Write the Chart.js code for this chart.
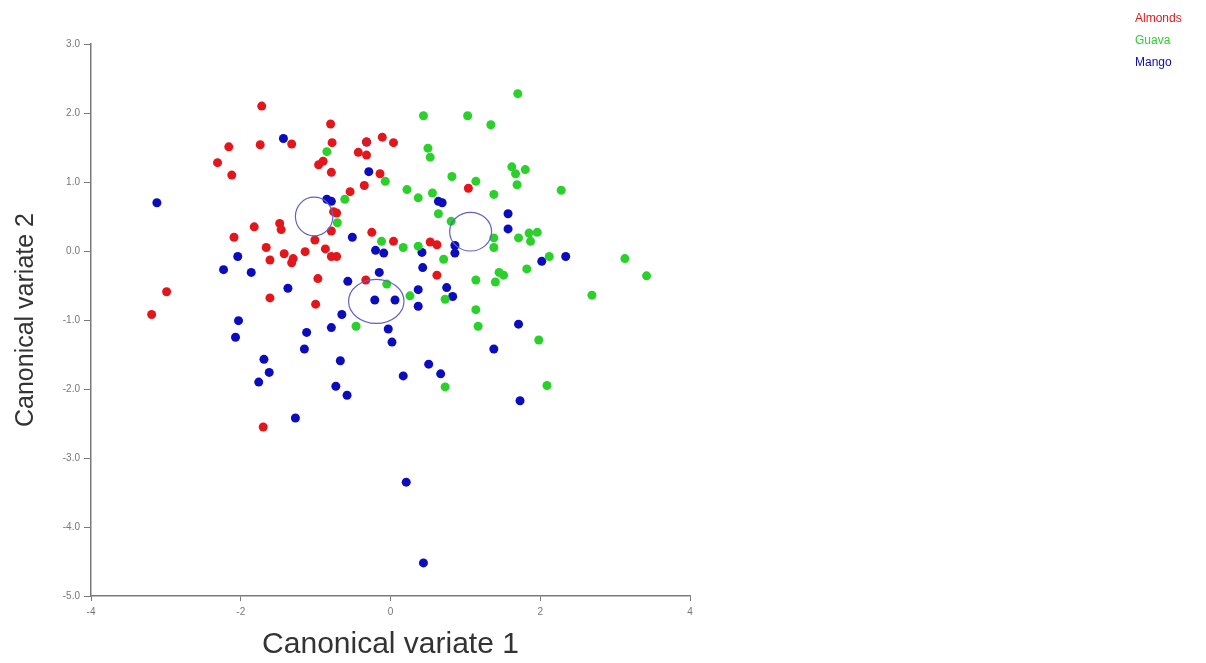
<!DOCTYPE html>
<html>
<head>
<meta charset="utf-8">
<title>Canonical variates</title>
<script src="https://cdn.jsdelivr.net/npm/chart.js@4.4.1/dist/chart.umd.min.js"></script>
<style>
    body {
        margin: 0;
        background: #ffffff;
    }
    .wrap {
        position: relative;
        width: 1206px;
        height: 663px;
    }
    .legend {
        position: absolute;
        left: 1135px;
        top: 7px;
        font-family: "Liberation Sans", Arial, sans-serif;
        font-size: 12px;
        line-height: 22px;
    }
</style>
</head>
<body>
<div class="wrap">
    <canvas id="cvaChart" width="1206" height="663"></canvas>
    <div class="legend" id="legend"></div>
</div>
<script>
// Group scores on the first two canonical variates
const almondsX = [-1.72, -0.80, -1.32, -2.16, -1.74, -0.78, -0.32, -0.11, 0.04, -0.43,
    -0.32, -2.31, -0.96, -0.90, -2.12, -0.79, -0.14, -0.35, -0.54, -0.76,
    -0.72, -0.79, -0.25, -1.82, -1.48, -1.46, -2.09, -1.01, 0.04, -1.66,
    -1.42, -1.30, -1.32, -1.14, -0.87, -0.79, -0.72, -1.61, -0.97, -0.33,
    -1.61, -1.00, -2.99, -3.19, -1.70, 1.04, 0.53, 0.62, 0.62];
const almondsY = [2.10, 1.84, 1.55, 1.51, 1.54, 1.57, 1.58, 1.65, 1.57, 1.43,
    1.39, 1.28, 1.25, 1.30, 1.10, 1.14, 1.12, 0.95, 0.86, 0.57,
    0.55, 0.29, 0.27, 0.35, 0.40, 0.31, 0.20, 0.16, 0.14, 0.05,
    -0.04, -0.11, -0.17, -0.01, 0.03, -0.08, -0.08, -0.13, -0.40, -0.42,
    -0.68, -0.77, -0.59, -0.92, -2.55, 0.91, 0.13, 0.09, -0.35];

const guavaX = [-0.85, -0.71, -0.61, -0.07, 0.22, -0.12, 0.17, 1.70, 0.44, 1.03,
    1.34, 0.50, 0.53, 0.82, 1.14, 1.62, 1.67, 1.80, 1.69, 2.28,
    0.37, 0.56, 1.38, 0.64, 0.81, 1.71, 1.85, 1.96, 1.87, 0.37,
    1.38, 1.38, 2.12, 3.13, 3.42, 2.69, 0.71, 1.14, 1.40, 1.45,
    1.51, 1.82, -0.05, 0.26, 0.73, -0.46, 1.14, 1.17, 1.98, 0.73, 2.09];
const guavaY = [1.44, 0.41, 0.75, 1.01, 0.89, 0.14, 0.05, 2.28, 1.96, 1.96,
    1.83, 1.49, 1.36, 1.08, 1.01, 1.22, 1.12, 1.18, 0.96, 0.88,
    0.77, 0.84, 0.82, 0.54, 0.43, 0.19, 0.26, 0.27, 0.14, 0.07,
    0.19, 0.05, -0.08, -0.11, -0.36, -0.64, -0.12, -0.42, -0.45, -0.31,
    -0.35, -0.26, -0.48, -0.65, -0.70, -1.09, -0.85, -1.09, -1.29, -1.97, -1.95];

const mangoX = [-1.43, -0.32, -0.29, -3.12, -0.85, -0.79, -0.51, -0.20, -0.09, -2.04,
    0.64, 0.69, 1.57, 1.57, 0.86, 0.86, 0.42, 2.02, 2.34, -2.23,
    -1.86, -0.57, -0.15, -0.21, 0.06, -1.37, -0.65, -0.79, -0.03, 0.02,
    -2.03, -2.07, -1.12, -1.15, -1.69, -1.62, -1.76, -0.67, -0.73, -0.58,
    0.17, -1.27, 0.43, 0.75, 0.83, 0.37, 0.37, 1.71, 1.38, 0.51,
    0.67, 1.73, 0.21, 0.44];
const mangoY = [1.63, 1.58, 1.15, 0.70, 0.75, 0.72, 0.20, 0.01, -0.03, -0.08,
    0.72, 0.70, 0.54, 0.32, 0.08, -0.03, -0.02, -0.15, -0.08, -0.27,
    -0.31, -0.44, -0.31, -0.71, -0.71, -0.54, -0.92, -1.11, -1.13, -1.32,
    -1.01, -1.25, -1.18, -1.42, -1.57, -1.76, -1.90, -1.59, -1.96, -2.09,
    -1.81, -2.42, -0.24, -0.53, -0.66, -0.56, -0.80, -1.06, -1.42, -1.64,
    -1.78, -2.17, -3.35, -4.52];

// Group mean ellipses (centre and half-axes in variate units)
const ellipseX = [-1.02, 1.07, -0.19];
const ellipseY = [0.50, 0.28, -0.73];
const ellipseRX = [0.25, 0.28, 0.37];
const ellipseRY = [0.28, 0.28, 0.32];

const groupNames = ['Almonds', 'Guava', 'Mango'];
const groupColors = ['#e3161b', '#2bd12b', '#0c0cbf'];

function toPoints(xs, ys) {
    return xs.map((x, i) => ({ x: x, y: ys[i] }));
}

const groupEllipses = {
    id: 'groupEllipses',
    afterDatasetsDraw(chart) {
        const { ctx, scales: { x, y } } = chart;
        ctx.save();
        ctx.strokeStyle = '#6262c8';
        ctx.lineWidth = 1.2;
        ellipseX.forEach((cx, i) => {
            const px = x.getPixelForValue(cx);
            const py = y.getPixelForValue(ellipseY[i]);
            const rx = Math.abs(x.getPixelForValue(cx + ellipseRX[i]) - px);
            const ry = Math.abs(y.getPixelForValue(ellipseY[i] + ellipseRY[i]) - py);
            ctx.beginPath();
            ctx.ellipse(px, py, rx, ry, 0, 0, Math.PI * 2);
            ctx.stroke();
        });
        ctx.restore();
    }
};

const sets = [
    toPoints(almondsX, almondsY),
    toPoints(guavaX, guavaY),
    toPoints(mangoX, mangoY)
];

new Chart(document.getElementById('cvaChart'), {
    type: 'scatter',
    data: {
        datasets: sets.map((pts, i) => ({
            label: groupNames[i],
            data: pts,
            backgroundColor: groupColors[i],
            borderWidth: 0,
            pointRadius: 4.5,
            pointHoverRadius: 4.5
        }))
    },
    options: {
        responsive: false,
        animation: false,
        devicePixelRatio: 1,
        layout: {
            padding: { top: 44, right: 516, bottom: 0, left: 0 }
        },
        plugins: {
            legend: { display: false },
            tooltip: { enabled: false }
        },
        scales: {
            x: {
                type: 'linear',
                min: -4,
                max: 4,
                afterFit: scale => { scale.height = 67; },
                border: { color: '#7a7a7a', width: 1.5 },
                grid: { drawOnChartArea: false, drawTicks: true, tickLength: 5, color: '#7a7a7a' },
                ticks: {
                    stepSize: 2,
                    padding: 5,
                    color: '#777',
                    font: { family: 'Liberation Sans, Arial', size: 10 }
                },
                title: {
                    display: true,
                    text: 'Canonical variate 1',
                    color: '#333',
                    padding: { top: 0, bottom: 0 },
                    font: { family: 'Liberation Sans, Arial', size: 30 }
                }
            },
            y: {
                type: 'linear',
                min: -5,
                max: 3,
                afterFit: scale => { scale.width = 91; },
                border: { color: '#7a7a7a', width: 1.5 },
                grid: { drawOnChartArea: false, drawTicks: true, tickLength: 7, color: '#7a7a7a' },
                ticks: {
                    stepSize: 1,
                    padding: 4,
                    color: '#777',
                    font: { family: 'Liberation Sans, Arial', size: 10 },
                    callback: v => v.toFixed(1)
                },
                title: {
                    display: true,
                    text: 'Canonical variate 2',
                    color: '#333',
                    padding: { top: 11, bottom: 0 },
                    font: { family: 'Liberation Sans, Arial', size: 25 }
                }
            }
        }
    },
    plugins: [groupEllipses]
});

// Text-only legend in the top right corner
const legend = document.getElementById('legend');
groupNames.forEach((name, i) => {
    const row = document.createElement('div');
    row.textContent = name;
    row.style.color = groupColors[i];
    legend.appendChild(row);
});
</script>
</body>
</html>
